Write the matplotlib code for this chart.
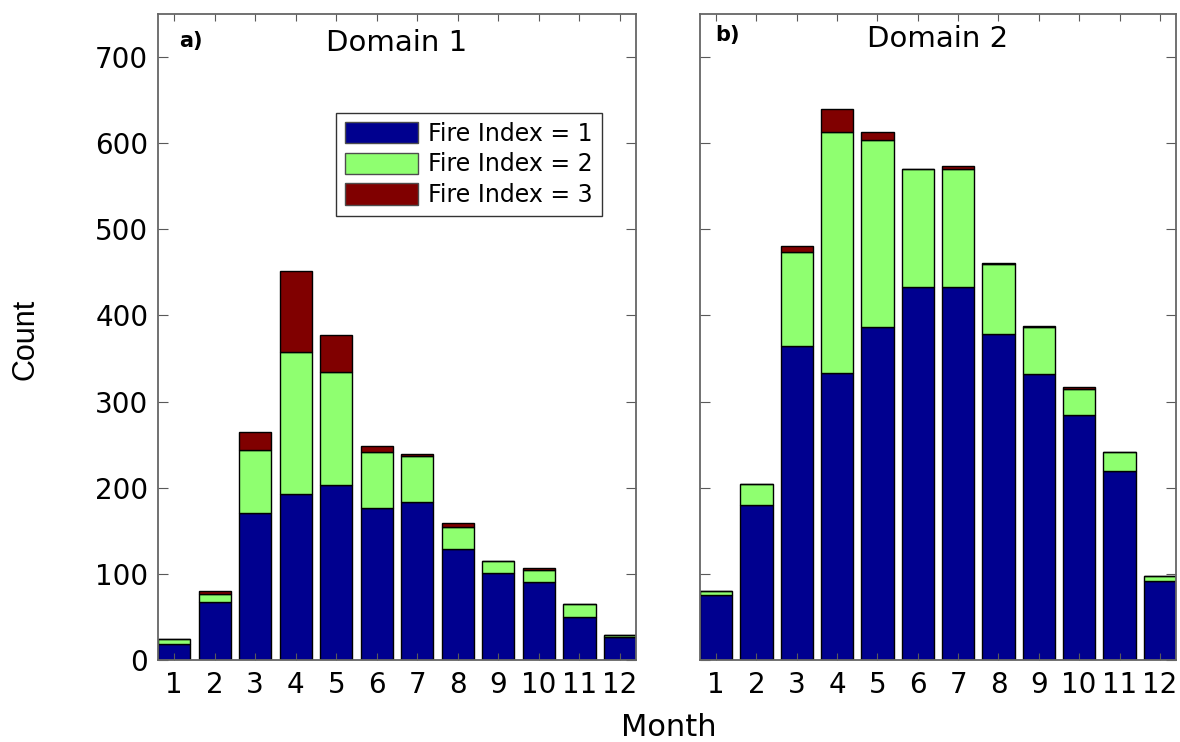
import numpy as np
import matplotlib
matplotlib.use("Agg")
import matplotlib.pyplot as plt

months = np.arange(1, 13)
month_labels = [str(m) for m in months]

# Domain 1 counts per fire index
d1_fi1 = [19, 67, 171, 193, 203, 177, 183, 129, 101, 91, 50, 27]
d1_fi2 = [5, 10, 73, 165, 131, 64, 54, 26, 14, 13, 15, 2]
d1_fi3 = [0, 3, 21, 94, 43, 8, 2, 4, 0, 3, 0, 0]

# Domain 2 counts per fire index
d2_fi1 = [76, 180, 365, 333, 387, 433, 433, 378, 332, 285, 219, 92]
d2_fi2 = [4, 24, 109, 280, 217, 137, 137, 82, 55, 30, 22, 5]
d2_fi3 = [0, 0, 7, 27, 9, 0, 4, 1, 1, 2, 0, 0]

series_labels = ["Fire Index = 1", "Fire Index = 2", "Fire Index = 3"]
colors = ["#00008F", "#8FFF70", "#800000"]
yticks = [0, 100, 200, 300, 400, 500, 600, 700]

plt.rcParams['font.family'] = ['DejaVu Sans']

fig = plt.figure(figsize=(11.8, 7.42), dpi=100)
ax1 = fig.add_axes([0.1339, 0.1105, 0.4051, 0.8706])
ax2 = fig.add_axes([0.5932, 0.1105, 0.4034, 0.8706])


def stacked(ax, s1, s2, s3):
    s1 = np.array(s1)
    s2 = np.array(s2)
    s3 = np.array(s3)
    bottom = np.zeros(len(months))
    for vals, col, lab in zip([s1, s2, s3], colors, series_labels):
        ax.bar(months, vals, width=0.8, bottom=bottom, color=col,
               edgecolor='black', linewidth=1.0, label=lab)
        bottom = bottom + vals
    ax.set_xlim(0.6, 12.4)
    ax.set_ylim(0, 750)
    ax.set_xticks(months)
    ax.set_xticklabels(month_labels)
    ax.set_yticks(yticks)
    ax.tick_params(axis='both', direction='in', top=True, right=True,
                   labelsize=20, color='0.35')
    ax.tick_params(axis='y', length=7, pad=7)
    ax.tick_params(axis='x', length=5, pad=8)
    for sp in ax.spines.values():
        sp.set_color('0.4')
        sp.set_linewidth(1.3)


stacked(ax1, d1_fi1, d1_fi2, d1_fi3)
stacked(ax2, d2_fi1, d2_fi2, d2_fi3)
ax2.set_yticklabels([])

ax1.text(0.5, 0.955, "Domain 1", transform=ax1.transAxes, ha='center',
         va='center', fontsize=21)
ax2.text(0.5, 0.962, "Domain 2", transform=ax2.transAxes, ha='center',
         va='center', fontsize=21)
ax1.text(0.045, 0.958, "a)", transform=ax1.transAxes, ha='left',
         va='center', fontsize=15, fontweight='bold')
ax2.text(0.033, 0.968, "b)", transform=ax2.transAxes, ha='left',
         va='center', fontsize=15, fontweight='bold')

leg = ax1.legend(loc='upper right', bbox_to_anchor=(0.929, 0.847),
                 borderaxespad=0, fontsize=17, fancybox=False,
                 handlelength=3.1, handleheight=1.0, labelspacing=0.28,
                 handletextpad=0.45, borderpad=0.38, framealpha=1)
leg.get_frame().set_edgecolor('0.2')
leg.get_frame().set_linewidth(1.0)
for h in leg.legend_handles:
    h.set_edgecolor('0.3')

fig.text(0.567, 0.019, "Month", ha='center', va='center', fontsize=22)
fig.text(0.022, 0.543, "Count", ha='center', va='center', rotation=90,
         fontsize=22, family=['Liberation Sans', 'DejaVu Sans'])

fig.savefig("out.png", dpi=100)
